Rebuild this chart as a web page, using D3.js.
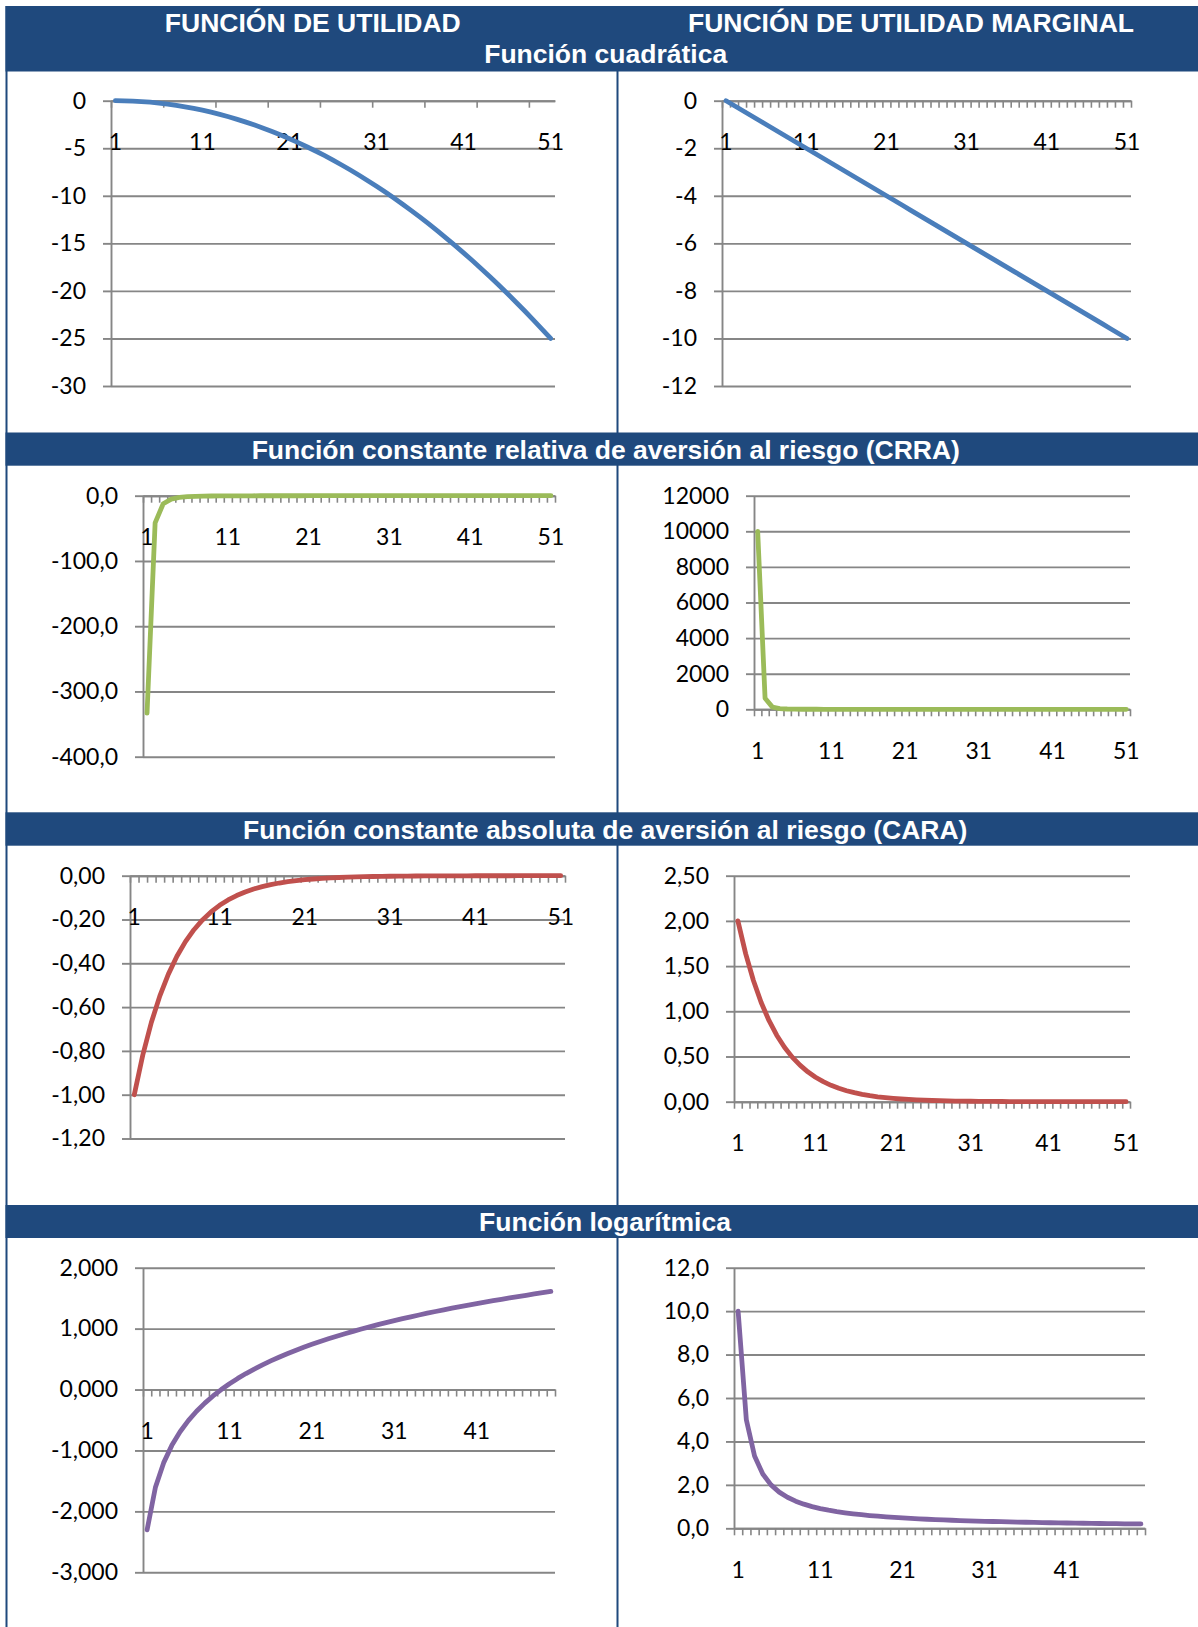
<!DOCTYPE html>
<html><head><meta charset="utf-8">
<script src="https://cdn.jsdelivr.net/npm/d3@7"></script>
<style>html,body{margin:0;padding:0;background:#fff;} svg{display:block;}</style>
</head><body><svg id="c" width="1198" height="1627"></svg>
<script>
// ---------- DATA ----------
const categories51 = [1,2,3,4,5,6,7,8,9,10,11,12,13,14,15,16,17,18,19,20,21,22,23,24,25,26,27,28,29,30,31,32,33,34,35,36,37,38,39,40,41,42,43,44,45,46,47,48,49,50,51];
const categories50 = [1,2,3,4,5,6,7,8,9,10,11,12,13,14,15,16,17,18,19,20,21,22,23,24,25,26,27,28,29,30,31,32,33,34,35,36,37,38,39,40,41,42,43,44,45,46,47,48,49,50];
const xLabels51 = [1,11,21,31,41,51];
const xLabels50 = [1,11,21,31,41];

const quadU = [0,-0.01,-0.04,-0.09,-0.16,-0.25,-0.36,-0.49,-0.64,-0.81,-1,-1.21,-1.44,-1.69,-1.96,-2.25,-2.56,-2.89,-3.24,-3.61,-4,-4.41,-4.84,-5.29,-5.76,-6.25,-6.76,-7.29,-7.84,-8.41,-9,-9.61,-10.24,-10.89,-11.56,-12.25,-12.96,-13.69,-14.44,-15.21,-16,-16.81,-17.64,-18.49,-19.36,-20.25,-21.16,-22.09,-23.04,-24.01,-25];
const quadMU = [0,-0.2,-0.4,-0.6,-0.8,-1,-1.2,-1.4,-1.6,-1.8,-2,-2.2,-2.4,-2.6,-2.8,-3,-3.2,-3.4,-3.6,-3.8,-4,-4.2,-4.4,-4.6,-4.8,-5,-5.2,-5.4,-5.6,-5.8,-6,-6.2,-6.4,-6.6,-6.8,-7,-7.2,-7.4,-7.6,-7.8,-8,-8.2,-8.4,-8.6,-8.8,-9,-9.2,-9.4,-9.6,-9.8,-10];
const crraU = [-333.33,-41.67,-12.35,-5.21,-2.67,-1.54,-0.97,-0.65,-0.457,-0.333,-0.250,-0.193,-0.152,-0.121,-0.099,-0.081,-0.068,-0.057,-0.049,-0.042,-0.036,-0.031,-0.027,-0.024,-0.021,-0.019,-0.017,-0.015,-0.014,-0.012,-0.011,-0.010,-0.009,-0.0085,-0.0078,-0.0071,-0.0066,-0.0061,-0.0056,-0.0052,-0.0048,-0.0045,-0.0042,-0.0039,-0.0037,-0.0034,-0.0032,-0.0030,-0.0028,-0.0027,-0.0025];
const crraMU = [10000,625,123.46,39.06,16,7.716,4.165,2.441,1.524,1,0.683,0.482,0.350,0.260,0.198,0.153,0.120,0.095,0.077,0.0625,0.0514,0.0427,0.0357,0.0301,0.0256,0.0219,0.0188,0.0163,0.0141,0.0123,0.0108,0.0095,0.0084,0.0075,0.0067,0.0060,0.0053,0.0048,0.0043,0.0039,0.0035,0.0032,0.0029,0.0027,0.0024,0.0022,0.0020,0.0019,0.0017,0.0016,0.0015];
const caraU = [-1,-0.8187,-0.6703,-0.5488,-0.4493,-0.3679,-0.3012,-0.2466,-0.2019,-0.1653,-0.1353,-0.1108,-0.0907,-0.0743,-0.0608,-0.0498,-0.0408,-0.0334,-0.0273,-0.0224,-0.0183,-0.0150,-0.0123,-0.0101,-0.0082,-0.0067,-0.0055,-0.0045,-0.0037,-0.0030,-0.0025,-0.0020,-0.0017,-0.0014,-0.0011,-0.0009,-0.0007,-0.0006,-0.0005,-0.0004,-0.0003,-0.0003,-0.0002,-0.0002,-0.0002,-0.0001,-0.0001,-0.0001,-0.0001,-0.0001,0];
const caraMU = [2,1.6375,1.3406,1.0976,0.8987,0.7358,0.6024,0.4932,0.4038,0.3306,0.2707,0.2216,0.1814,0.1485,0.1216,0.0996,0.0815,0.0667,0.0546,0.0447,0.0366,0.0300,0.0246,0.0201,0.0165,0.0135,0.0110,0.0090,0.0074,0.0061,0.0050,0.0041,0.0033,0.0027,0.0022,0.0018,0.0015,0.0012,0.0010,0.0008,0.0007,0.0006,0.0005,0.0004,0.0003,0.0002,0.0002,0.0002,0.0001,0.0001,0.0001];
const logU = [-2.3026,-1.6094,-1.2040,-0.9163,-0.6931,-0.5108,-0.3567,-0.2231,-0.1054,0,0.0953,0.1823,0.2624,0.3365,0.4055,0.4700,0.5306,0.5878,0.6419,0.6931,0.7419,0.7885,0.8329,0.8755,0.9163,0.9555,0.9933,1.0296,1.0647,1.0986,1.1314,1.1632,1.1939,1.2238,1.2528,1.2809,1.3083,1.3350,1.3610,1.3863,1.4110,1.4351,1.4586,1.4816,1.5041,1.5261,1.5476,1.5686,1.5892,1.6094];
const logMU = [10,5,3.333,2.5,2,1.667,1.429,1.25,1.111,1,0.909,0.833,0.769,0.714,0.667,0.625,0.588,0.556,0.526,0.5,0.476,0.455,0.435,0.417,0.4,0.385,0.370,0.357,0.345,0.333,0.323,0.3125,0.303,0.294,0.286,0.278,0.270,0.263,0.256,0.25,0.244,0.238,0.233,0.227,0.222,0.217,0.213,0.208,0.204,0.2];

const yTicksQuadU = [0,-5,-10,-15,-20,-25,-30];
const yTicksQuadMU = [0,-2,-4,-6,-8,-10,-12];
const yTicksCrraU = [0,-100,-200,-300,-400];
const yTicksCrraMU = [0,2000,4000,6000,8000,10000,12000];
const yTicksCaraU = [0,-0.2,-0.4,-0.6,-0.8,-1,-1.2];
const yTicksCaraMU = [0,0.5,1,1.5,2,2.5];
const yTicksLogU = [-3,-2,-1,0,1,2];
const yTicksLogMU = [0,2,4,6,8,10,12];

const columnTitles = ["FUNCIÓN DE UTILIDAD", "FUNCIÓN DE UTILIDAD MARGINAL"];
const sectionTitles = ["Función cuadrática", "Función constante relativa de aversión al riesgo (CRRA)", "Función constante absoluta de aversión al riesgo (CARA)", "Función logarítmica"];

// ---------- LAYOUT ----------
const BLUE_BAND = "#1F497D";
const C_BLUE = "#4A7EBB", C_GREEN = "#9BBB59", C_RED = "#C0504D", C_PURPLE = "#8064A2";
const GRID = "#868686";
const LABEL_FONT = "Lato, 'Open Sans', sans-serif";
const LABEL_SIZE = 23;

const loc = d3.formatLocale({decimal: ",", thousands: ".", grouping: [3], currency: ["", ""], minus: "-"});

const panels = [
  {data: quadU,  cats: categories51, labels: xLabels51, yTicks: yTicksQuadU,  fmt: ".0f", color: C_BLUE,   x0: 111, x1: 555,  yTop: 100.7,  yBot: 386,    tickEvery: 6},
  {data: quadMU, cats: categories51, labels: xLabels51, yTicks: yTicksQuadMU, fmt: ".0f", color: C_BLUE,   x0: 722, x1: 1131, yTop: 100.7,  yBot: 386,    tickEvery: 1},
  {data: crraU,  cats: categories51, labels: xLabels51, yTicks: yTicksCrraU,  fmt: ".1f", color: C_GREEN,  x0: 143, x1: 555,  yTop: 495.7,  yBot: 756.7,  tickEvery: 1},
  {data: crraMU, cats: categories51, labels: xLabels51, yTicks: yTicksCrraMU, fmt: ".0f", color: C_GREEN,  x0: 754, x1: 1130, yTop: 495.7,  yBot: 709.3,  tickEvery: 1},
  {data: caraU,  cats: categories51, labels: xLabels51, yTicks: yTicksCaraU,  fmt: ".2f", color: C_RED,    x0: 130, x1: 565,  yTop: 875.7,  yBot: 1138.5, tickEvery: 1},
  {data: caraMU, cats: categories51, labels: xLabels51, yTicks: yTicksCaraMU, fmt: ".2f", color: C_RED,    x0: 734, x1: 1130, yTop: 875.7,  yBot: 1101.7, tickEvery: 1},
  {data: logU,   cats: categories50, labels: xLabels50, yTicks: yTicksLogU,   fmt: ".3f", color: C_PURPLE, x0: 143, x1: 555,  yTop: 1267.7, yBot: 1572.3, tickEvery: 1},
  {data: logMU,  cats: categories50, labels: xLabels50, yTicks: yTicksLogMU,  fmt: ".1f", color: C_PURPLE, x0: 734, x1: 1145, yTop: 1267.7, yBot: 1528.3, tickEvery: 1}
];

const svg = d3.select("#c");
svg.append("rect").attr("width", 1198).attr("height", 1627).attr("fill", "#fff");

// table borders
svg.append("rect").attr("x", 5.5).attr("y", 6).attr("width", 2).attr("height", 1621).attr("fill", BLUE_BAND);
svg.append("rect").attr("x", 616.5).attr("y", 70).attr("width", 2).attr("height", 1557).attr("fill", BLUE_BAND);

// charts
panels.forEach(p => {
  const g = svg.append("g");
  const n = p.cats.length;
  const x = d3.scaleBand().domain(p.cats).range([p.x0, p.x1]).padding(0);
  const xb = d3.scaleLinear().domain([0, n]).range([p.x0, p.x1]);
  const y = d3.scaleLinear().domain([d3.min(p.yTicks), d3.max(p.yTicks)]).range([p.yBot, p.yTop]);
  const f = loc.format(p.fmt);

  // gridlines
  const grid = g.append("g").attr("transform", `translate(${p.x0},0)`)
    .call(d3.axisLeft(y).tickValues(p.yTicks).tickSize(-(p.x1 - p.x0)).tickFormat(""));
  grid.select(".domain").remove();
  grid.selectAll("line").attr("stroke", GRID).attr("stroke-width", 1.9);

  // y axis with outer tick marks and labels
  const ya = g.append("g").attr("transform", `translate(${p.x0},0)`)
    .call(d3.axisLeft(y).tickValues(p.yTicks).tickSize(8).tickSizeOuter(0).tickPadding(17).tickFormat(f));
  ya.select(".domain").attr("stroke", GRID).attr("stroke-width", 1.9);
  ya.selectAll("line").attr("stroke", GRID).attr("stroke-width", 1.9);
  ya.selectAll("text").attr("font-family", LABEL_FONT).attr("font-size", LABEL_SIZE).attr("fill", "#000");

  // x axis line + tick marks at category boundaries
  const y0 = y(0);
  const bounds = d3.range(0, n + 1).filter(k => k % p.tickEvery === 0);
  const xa = g.append("g").attr("transform", `translate(0,${y0})`)
    .call(d3.axisBottom(xb).tickValues(bounds).tickSize(7).tickSizeOuter(0).tickFormat(""));
  xa.select(".domain").attr("stroke", GRID).attr("stroke-width", 1.9);
  xa.selectAll("line").attr("stroke", GRID).attr("stroke-width", 1.6);

  // x labels
  const xl = g.append("g").attr("transform", `translate(0,${y0})`)
    .call(d3.axisBottom(x).tickValues(p.labels).tickSize(0).tickPadding(33));
  xl.select(".domain").remove();
  xl.selectAll("text").attr("font-family", LABEL_FONT).attr("font-size", LABEL_SIZE).attr("fill", "#000");

  // series line
  const line = d3.line()
    .x((d, i) => x(p.cats[i]) + x.bandwidth() / 2)
    .y(d => y(d));
  g.append("path").datum(p.data)
    .attr("d", line)
    .attr("fill", "none")
    .attr("stroke", p.color)
    .attr("stroke-width", 4.8)
    .attr("stroke-linejoin", "round")
    .attr("stroke-linecap", "round");
});

// header bands
const bands = [
  {y: 6, h: 65.5},
  {y: 432.5, h: 33.2},
  {y: 812.3, h: 33.4},
  {y: 1205, h: 33}
];
bands.forEach(b => {
  svg.append("rect").attr("x", 5.5).attr("y", b.y).attr("width", 1198 - 5.5).attr("height", b.h).attr("fill", BLUE_BAND);
});

const headerFont = "'Liberation Sans', Arial, sans-serif";
function headerText(txt, cx, baseline) {
  svg.append("text").attr("x", cx).attr("y", baseline)
    .attr("text-anchor", "middle")
    .attr("font-family", headerFont).attr("font-weight", "bold").attr("font-size", 26.5)
    .attr("fill", "#fff").text(txt);
}
headerText(columnTitles[0], 312.8, 31.5);
headerText(columnTitles[1], 911, 31.5);
headerText(sectionTitles[0], 605.7, 63.3);
headerText(sectionTitles[1], 605.8, 459.3);
headerText(sectionTitles[2], 605.2, 838.5);
headerText(sectionTitles[3], 605, 1231);
</script>
</body></html>
